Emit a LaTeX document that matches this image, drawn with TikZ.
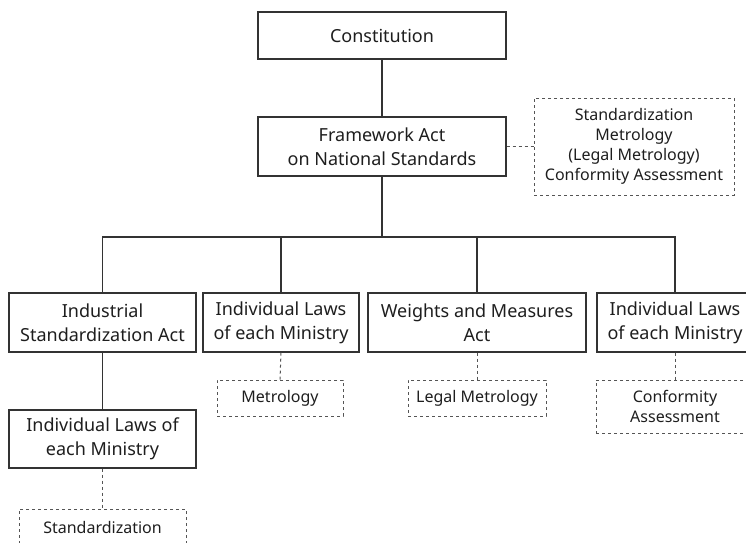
\documentclass[tikz,border=0pt]{standalone}
\usepackage{fontspec}
\setmainfont{Noto Sans}
\usepackage{xcolor}
\usepackage{tikz}
\usetikzlibrary{positioning, calc}
\definecolor{boxline}{HTML}{333333}
\definecolor{dashline}{HTML}{555555}
\definecolor{textgray}{HTML}{1E1E1E}

\begin{document}
\begin{tikzpicture}[x=1pt, y=-1pt, font=\fontsize{18}{24}\selectfont, text=textgray]
    \tikzstyle{law} = [rectangle, draw=boxline, line width=1.1pt, align=center, inner sep=0pt]
    \tikzstyle{area} = [rectangle, draw=dashline, line width=1pt, dashed, align=center, inner sep=0pt,
      font=\fontsize{16}{20}\selectfont]
    \tikzstyle{link} = [draw=boxline, line width=1.1pt]
    \tikzstyle{dlink} = [draw=dashline, line width=1pt, dashed]

    \useasboundingbox (0,0) rectangle (746,542);
    \clip (0,0) rectangle (746,542);

    % Top: constitution and framework act
    \node (constitution) [law, minimum width=248, minimum height=47] at (382, 35.5) {Constitution};
    \node (framework)    [law, minimum width=248, minimum height=59] at (382, 146.5) {Framework Act\\on National Standards};
    \node (scope)        [area, minimum width=200, minimum height=97] at (634, 146.5)
      {Standardization\\Metrology\\(Legal Metrology)\\Conformity Assessment};

    % Second level: acts and laws
    \node (industrial) [law, minimum width=187, minimum height=59] at (102.5, 322.5) {Industrial\\Standardization Act};
    \node (lawsA)      [law, minimum width=156, minimum height=59] at (281, 322.5) {Individual Laws\\of each Ministry};
    \node (weights)    [law, minimum width=218, minimum height=59] at (477, 322.5) {Weights and Measures\\Act};
    \node (lawsB)      [law, minimum width=156, minimum height=59] at (675, 322.5) {Individual Laws\\of each Ministry};
    \node (lawsC)      [law, minimum width=187, minimum height=58] at (102.5, 439) {Individual Laws of\\each Ministry};

    % Dashed fields under each law
    \node (metrology) [area, minimum width=126, minimum height=36] at (280, 398) {Metrology};
    \node (legal)     [area, minimum width=138, minimum height=36] at (477, 398) {Legal Metrology};
    \node (conformity)[area, minimum width=158, minimum height=53] at (675, 406.5) {Conformity\\Assessment};
    \node (standard)  [area, minimum width=167, minimum height=36] at (102.5, 527) {Standardization};

    % Solid tree
    \coordinate (bus) at (382, 237);
    \draw [link] (constitution.south) -- (framework.north);
    \draw [link] (framework.south) -- (bus);
    \draw [link] (bus) -| (industrial.north);
    \draw [link] (bus) -| (lawsA.north);
    \draw [link] (bus) -| (weights.north);
    \draw [link] (bus) -| (lawsB.north);
    \draw [link] (industrial.south) -- (lawsC.north);

    % Dashed links
    \draw [dlink] (framework.east) -- (scope.west);
    \draw [dlink] (lawsA.south) -- (metrology.north);
    \draw [dlink] (weights.south) -- (legal.north);
    \draw [dlink] (lawsB.south) -- (conformity.north);
    \draw [dlink] (lawsC.south) -- (standard.north);
\end{tikzpicture}
\end{document}
